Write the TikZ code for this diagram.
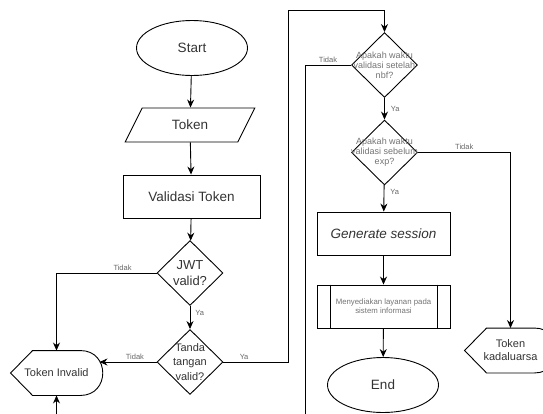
\documentclass[tikz,border=0pt]{standalone}
\usepackage{fontspec}
\setmainfont{Liberation Sans}
\usetikzlibrary{arrows.meta, shapes.geometric}

\begin{document}
\begin{tikzpicture}[x=1pt, y=-1pt, line width=0.9pt, >={Stealth[length=8pt,width=7pt]}]
\tikzstyle{every node}+=[inner sep=0pt, text=black!80]
\tikzstyle{term}=[draw, ellipse, minimum width=111pt, minimum height=55pt, font=\fontsize{13.5}{16}\selectfont]
\tikzstyle{io}=[draw, trapezium, trapezium left angle=57, trapezium right angle=123, trapezium stretches=true, minimum width=130pt, minimum height=34pt, font=\fontsize{13.5}{16}\selectfont]
\tikzstyle{proc}=[draw, rectangle, minimum width=135pt, minimum height=43pt, font=\fontsize{13.5}{16}\selectfont]
\tikzstyle{dec}=[draw, diamond, minimum width=66pt, minimum height=65pt]
\tikzstyle{disp}=[minimum width=91pt, minimum height=44pt, align=center, font=\fontsize{11}{13}\selectfont]
\tikzstyle{small}=[align=center, text=black!55, font=\fontsize{9}{10}\selectfont]
\tikzstyle{lbl}=[text=black!60, font=\fontsize{7.5}{9}\selectfont]
\useasboundingbox (0,0) rectangle (543,413);
\clip (0,0) rectangle (543,413);

% left column
\node (start) [term] at (192,48) {Start};
\node (token) [io] at (190,125) {Token};
\node (valid) [proc, minimum width=137pt] at (191.5,196.5) {Validasi Token};
\node (jwt) [dec] at (190,273) {};
\node (jwttext) at (jwt) [align=center, font=\fontsize{13}{16.5}\selectfont] {JWT\\valid?};
\node (tanda) [dec] at (190,362) {};
\node (tandatext) at (tanda) [align=center, font=\fontsize{11}{14.5}\selectfont] {Tanda\\tangan\\valid?};
\node (inv) [disp] at (56.5,373) {Token Invalid};

% right column
\node (nbf) [dec] at (384.5,65) {};
\node (nbftext) at (nbf) [small] {Apakah waktu\\validasi setelah\\nbf?};
\node (exp) [dec] at (384.5,152.5) {};
\node (exptext) at (exp) [small] {Apakah waktu\\validasi sebelum\\exp?};
\node (gen) [proc, minimum width=133pt] at (383.5,233.5) {\textit{Generate session}};
\node (lay) [proc, minimum width=133pt, align=center, text=black!55, font=\fontsize{7.8}{9}\selectfont] at (383.5,306.5) {Menyediakan layanan pada\\sistem informasi};
\draw ([xshift=14pt]lay.north west) -- ([xshift=14pt]lay.south west);
\draw ([xshift=-13pt]lay.north east) -- ([xshift=-13pt]lay.south east);
\node (end) [term] at (383,385) {End};
\node (kad) [disp] at (510.5,350.5) {Token\\kadaluarsa};

% display shapes
\foreach \n in {inv,kad}
  \draw (\n.west) -- ([xshift=22pt]\n.north west) -- ([xshift=-22pt]\n.north east)
    to[out=0, in=0, looseness=1.7] ([xshift=-22pt]\n.south east)
    -- ([xshift=22pt]\n.south west) -- cycle;

% connectors
\coordinate (up) at (288,10);
\coordinate (down) at (305,440);
\draw [->] (start) -- (token);
\draw [->] (token) -- (valid);
\draw [->] (valid) -- (jwt);
\draw [->] (jwt.west) -| node [lbl, pos=0.17, above=2pt] {Tidak} (inv.north);
\draw [->] (jwt) -- node [lbl, pos=0.3, right=5pt] {Ya} (tanda);
\draw [->, shorten >=-3pt] (tanda.west) -- node [lbl, pos=0.4, above=2pt] {Tidak} (tanda.west -| inv.east);
\draw [->] (tanda.east) -| node [lbl, pos=0.16, above=2pt] {Ya} (up) -| (nbf.north);
\draw [->] (nbf.west) -- node [lbl, above=2pt] {Tidak} (nbf.west -| down) -- (down) -| (inv.south);
\draw [->] (nbf) -- node [lbl, right=6pt] {Ya} (exp);
\draw [->] (exp.east) -| node [lbl, pos=0.25, above=2pt] {Tidak} (kad.north);
\draw [->] (exp) -- node [lbl, pos=0.25, right=6pt] {Ya} (gen);
\draw [->] (gen) -- (lay);
\draw [->] (lay) -- (end);
\end{tikzpicture}
\end{document}
